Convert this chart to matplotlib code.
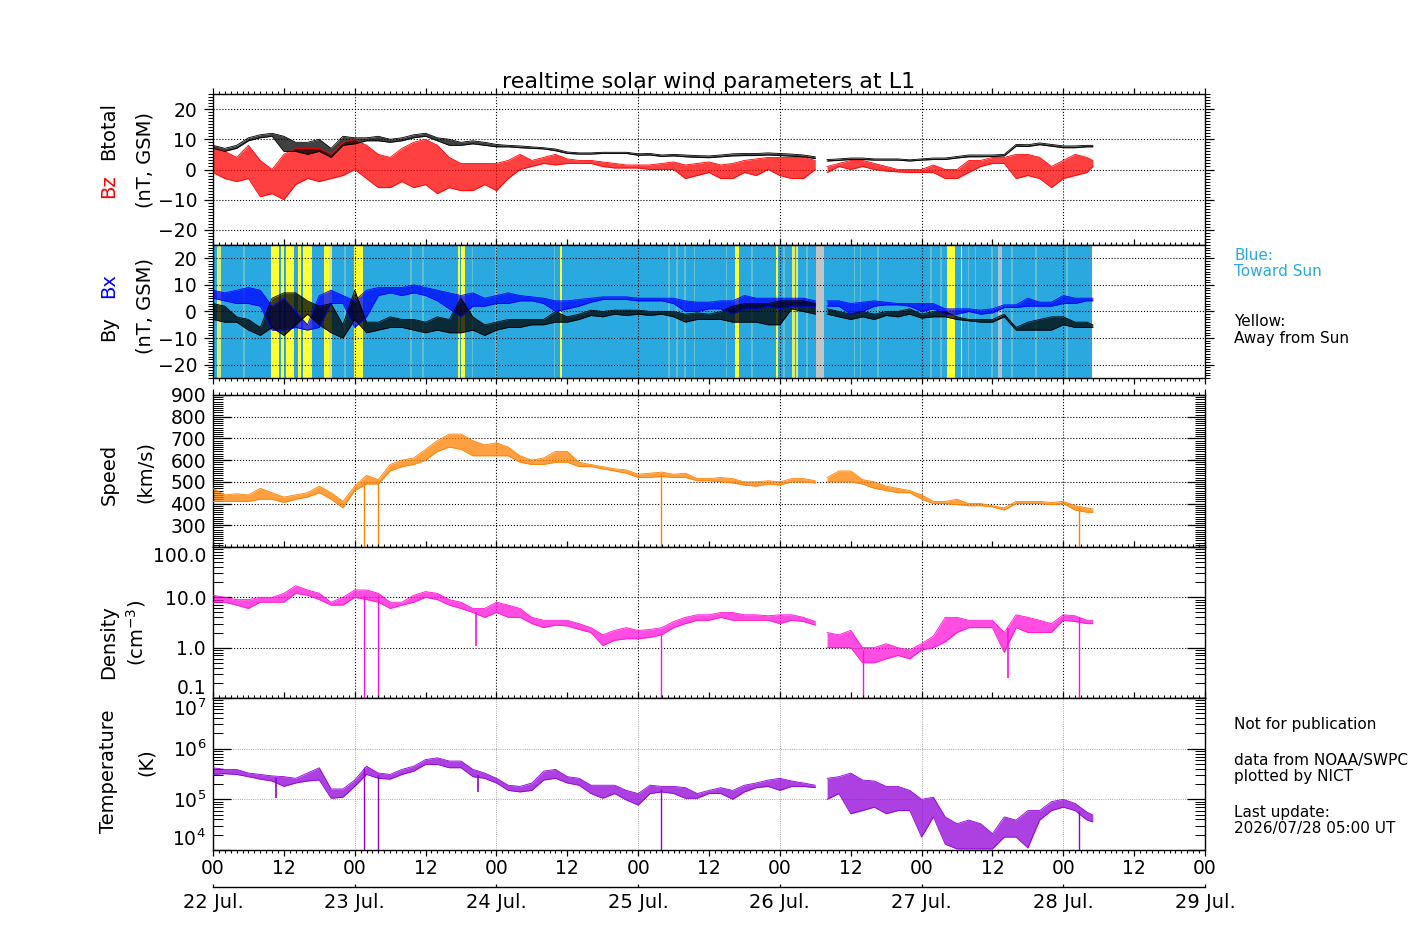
# realtime solar wind parameters at L1 - 7 day overview (Bz/Bt, Bx/By, speed, density, temperature)
import matplotlib
matplotlib.use('Agg')
import matplotlib.pyplot as plt
import numpy as np
from matplotlib.ticker import (MultipleLocator, FixedLocator, FixedFormatter,
                               FuncFormatter, LogLocator, NullFormatter)

# ---------------------------------------------------------------------------
# data: 2-hour samples (low / high envelope of the
# noisy trace), hours counted from 22 Jul. 00 UT
# ---------------------------------------------------------------------------
hours = np.arange(0, 150, 2).tolist() + [149]
gap_start, gap_end = 102.4, 103.6          # data gap on 26 Jul.

bt_lo = [7, 6, 7, 9.5, 10.5, 11, 6, 6, 5, 6, 4, 8,
         8.5, 9.5, 9.5, 9, 9.5, 10.5, 11, 9.5, 8, 8, 8.5, 8,
         7.5, 7.5, 7.2, 7, 6.8, 6.2, 5.3, 5.1, 5.1, 5.3, 5.3, 5.3,
         4.7, 4.8, 4.3, 4.5, 4.2, 4, 3.9, 4.2, 4.5, 4.6, 4.6, 4.8,
         4.6, 4.4, 4.2, 3.6, 2.8, 3.0, 3.3, 3.3, 3.1, 3.1, 3.1, 2.8,
         3.1, 3.3, 3.3, 3.8, 4.2, 4.2, 4.3, 4.5, 7.7, 7.6, 8.2, 7.7,
         7.2, 7.2, 7.5, 7.5]
bt_hi = [8, 7, 8, 10.5, 11.5, 12, 11, 9, 9, 10, 7, 11,
         10.5, 10.5, 11, 10, 10.5, 11.5, 12, 10.5, 10, 9, 9.5, 9,
         8.3, 8, 7.8, 7.5, 7.2, 6.8, 5.8, 5.5, 5.5, 5.7, 5.7, 5.7,
         5.2, 5.3, 4.8, 5, 4.8, 4.6, 4.5, 4.8, 5.2, 5.3, 5.3, 5.5,
         5.3, 5.1, 4.8, 4.2, 3.3, 3.5, 3.8, 3.8, 3.5, 3.5, 3.5, 3.2,
         3.5, 3.8, 3.8, 4.3, 4.8, 4.8, 4.8, 5, 8.3, 8.2, 8.8, 8.3,
         7.8, 7.8, 8, 8]

bz_lo = [-1, -3, -4, -3, -9, -8, -10, -5, -3, -4, -3, -2,
         0, -3, -6, -6, -4, -6, -5, -8, -6, -7, -7, -5,
         -7, -3, 0, 1, 2, 1.5, 2, 2, 2, 1, 0.5, 0.5,
         0.5, 0, 0, 0, -3, -2, -1, -3, -3, -1, -2, 0,
         -2, -3, -3, 0, -1, 1, 0, 1, 0, -0.5, -0.8, -1,
         -1, -1, -3, -3, -1, 1, 2, 2, -3, -2, -3, -6,
         -3, -2, -1, 1]
bz_hi = [7, 6, 4, 8, 3, 0, 5, 7, 7, 7, 5, 9,
         10, 8, 5, 4, 7, 9, 10, 8, 4, 2, 2, 2,
         2, 3, 5, 3, 4, 5, 3.5, 3, 3, 2.5, 2, 1.5,
         1.5, 1.5, 2, 2.5, 1.5, 2, 2.5, 1.5, 2, 3, 3.5, 4,
         4, 4, 4, 3, 1, 2, 3, 3, 2, 1, 0, 0,
         0, 1.5, 0, 0, 3, 3, 4, 4, 5, 5, 4, 1,
         3, 5, 4, 3]

bx_lo = [5, 4, 3, 3, 2, -7, -7, -6, -7, -6, 3, 3,
         -6, -2, 6, 7, 6, 7, 6, 4, 1, -2, 2, 2,
         3, 3, 4, 4, 3, 0, 1, 2, 3.5, 4.5, 4.5, 4.5,
         4, 4, 4, 3, 0, 0, 1, 1, -1, 1, 1, 2,
         1, 2, 2, 2, 2, 2, -1, 0, 2, 2.5, 2.5, 2,
         0, 1, -1, -1, 0, -1, -0.5, 1.5, 1.5, 2, 2, 2,
         3, 3, 4, 4]
bx_hi = [8, 7, 8, 9, 8, 2, 5, 0, -5, 6, 8, 6,
         4, 8, 9, 9, 9, 10, 9, 8, 7, 6, 7, 5,
         6, 7, 6, 5.5, 5, 4, 4, 4.5, 5, 5.5, 5.5, 5.5,
         5, 5, 5, 5, 4, 3.5, 3.5, 4, 4, 6, 5, 5,
         5, 5, 5, 4, 4, 4, 3, 3.5, 4, 3.5, 3, 3,
         3, 3, 1, 1, 1, 0.5, 1, 2.5, 2.5, 5, 3.5, 3.5,
         6, 5, 5, 5]

by_lo = [-3, -4, -4, -7, -9, -6, -9, -5, -1, -5, -8, -10,
         -3, -8, -7, -6, -6, -7, -8, -7, -8, -8, -7, -9,
         -7, -6, -6, -5, -5, -4, -4, -3, -1.5, -2, -1, -1.5,
         -1, -1.5, -1, -2, -4, -3, -3, -3, -4, -4, -4, -5,
         -5, 1, 0, -1, -1, -2, -3, -2, -3, -1.5, -2, -1,
         -2.5, -2, -2, -3, -3.5, -4, -4, -2, -7, -7, -7, -7,
         -5, -6, -6, -6]
by_hi = [3, 2, -2, -3, -6, 5, 7, 7, 4, 2, 3, -5,
         8, -4, -4, -2, -3, -3, -4, -2, -3, 5, -2, -5,
         -4, -3, -3, -3, -3, 0, -2, -1, 0.5, 0, 0.5, 0.5,
         0.5, 0, 0, 0, -1, -0.5, -1, 0, 2, 3, 3, 3,
         4, 4, 4, 3, 1, 0, -1, 0, -1, 0, 0, 1,
         -1, 0, 0, -2, -3, -3, -3, -1, -6, -4, -3, -2,
         -2, -4, -4, -5]

speed_lo = [410, 410, 410, 410, 420, 420, 405, 420, 430, 450, 420, 380,
            460, 490, 490, 550, 570, 580, 600, 640, 660, 650, 620, 620,
            620, 620, 590, 580, 580, 590, 590, 570, 570, 560, 550, 540,
            520, 520, 525, 520, 520, 505, 505, 500, 495, 485, 480, 490,
            485, 500, 500, 495, 500, 500, 500, 490, 470, 460, 450, 450,
            420, 400, 400, 395, 390, 390, 385, 370, 400, 400, 400, 395,
            400, 370, 360, 360]
speed_hi = [470, 440, 445, 440, 470, 450, 430, 440, 450, 480, 450, 410,
            480, 530, 510, 580, 600, 610, 650, 690, 720, 720, 690, 670,
            680, 660, 620, 600, 610, 640, 640, 590, 580, 570, 560, 555,
            535, 540, 545, 535, 540, 515, 515, 520, 515, 500, 500, 505,
            500, 515, 515, 505, 520, 550, 550, 510, 500, 480, 470, 460,
            440, 410, 410, 420, 400, 400, 390, 380, 410, 410, 410, 405,
            410, 390, 380, 375]

dens_lo = [8, 8, 7, 6, 8, 8, 8, 12, 11, 9, 7, 7,
           10, 9, 8, 6, 7, 8, 10, 9, 7, 6, 5, 4,
           5, 4, 4, 3, 2.5, 2.8, 2.7, 2.3, 2, 1.1, 1.4, 1.5,
           1.5, 1.6, 1.8, 2.5, 3, 3.5, 3.5, 4, 3.5, 3.5, 3.5, 3.5,
           3, 3.5, 3.3, 2.8, 1, 1, 1, 0.5, 0.5, 0.6, 0.7, 0.6,
           0.9, 1, 1.3, 2, 2.5, 2.5, 2.5, 0.8, 2.5, 2, 2, 2,
           3.5, 3.3, 3, 3]
dens_hi = [11, 10, 9, 9, 10, 10, 12, 17, 14, 12, 8, 10,
           14, 14, 12, 8, 8, 11, 13, 12, 9, 8, 6, 6,
           8, 7, 6, 4, 3.5, 3.5, 3.5, 3, 2.5, 1.8, 2.2, 2.5,
           2.2, 2.3, 2.5, 3.3, 4, 4.5, 4.5, 5, 5, 4.5, 4.5, 4.3,
           4.5, 4.5, 4, 3.3, 2, 1.8, 2.2, 1, 1, 1.2, 1, 0.9,
           1.2, 1.7, 4, 4, 3.5, 3.5, 3.5, 2, 4.5, 4, 3.5, 3,
           4.5, 4.3, 3.5, 3.5]

temp_lo = [3.1e5, 3.2e5, 3.1e5, 2.8e5, 2.5e5, 2.3e5, 1.8e5, 2.1e5, 2.3e5, 2.4e5, 1.05e5, 1.1e5,
           1.8e5, 3.1e5, 2.6e5, 2.5e5, 3.1e5, 3.6e5, 4.9e5, 4.9e5, 4.2e5, 4.2e5, 2.8e5, 2.6e5,
           2.1e5, 1.5e5, 1.4e5, 1.5e5, 2.4e5, 2.6e5, 2.1e5, 1.9e5, 1.3e5, 1.05e5, 1.3e5, 0.97e5,
           0.77e5, 1.3e5, 1.4e5, 1.3e5, 1.05e5, 1.05e5, 1.3e5, 1.3e5, 1.0e5, 1.4e5, 1.7e5, 1.8e5,
           1.5e5, 1.8e5, 1.8e5, 1.7e5, 1.0e5, 1.3e5, 0.52e5, 0.6e5, 0.7e5, 0.52e5, 0.6e5, 0.6e5,
           1.8e4, 4.5e4, 1.3e4, 1.05e4, 1.05e4, 1.05e4, 1.05e4, 1.8e4, 1.8e4, 1.1e4, 3.9e4, 6e4,
           7e4, 6e4, 3.9e4, 3.6e4]
temp_hi = [4.2e5, 3.9e5, 3.9e5, 3.3e5, 3.1e5, 2.9e5, 2.8e5, 2.6e5, 3.3e5, 4.2e5, 1.6e5, 1.6e5,
           2.4e5, 4.5e5, 3.3e5, 3.1e5, 3.9e5, 4.5e5, 6.1e5, 6.6e5, 5.7e5, 5.7e5, 3.9e5, 3.3e5,
           2.6e5, 1.9e5, 1.8e5, 2.1e5, 3.6e5, 3.9e5, 2.8e5, 2.6e5, 1.9e5, 1.9e5, 1.9e5, 1.5e5,
           1.3e5, 1.9e5, 1.8e5, 1.8e5, 1.7e5, 1.3e5, 1.5e5, 1.7e5, 1.5e5, 1.9e5, 2.1e5, 2.4e5,
           2.6e5, 2.3e5, 2.1e5, 1.9e5, 2.6e5, 2.8e5, 3.3e5, 2.4e5, 2.3e5, 1.8e5, 1.8e5, 1.5e5,
           1.0e5, 1.1e5, 4.5e4, 3.3e4, 3.9e4, 3.3e4, 2.1e4, 4.5e4, 3.9e4, 6e4, 6e4, 9e4,
           1.0e5, 8.3e4, 5.6e4, 4.9e4]

# plasma dropouts (vertical lines down to the axis floor)
drop_hours = [25.5, 27.9, 75.9, 146.7]
speed_drop_top = [500, 505, 535, 380]
dens_drop_top = [11, 11, 1.8, 4]
temp_drop_top = [4.3e5, 3.0e5, 1.6e5, 6e4]
dens_extra_drop_hour, dens_extra_drop_top = 110.1, 0.9

# short isolated dips
dens_dip_hours = [44.5, 134.6]
dens_dip_lo = [1.1, 0.25]
dens_dip_hi = [5.0, 2.5]
temp_dip_hours = [10.6, 44.8]
temp_dip_lo = [1.05e5, 1.4e5]
temp_dip_hi = [2.6e5, 3.0e5]

# IMF sector (panel 2 background): blue = toward, yellow = away, grey = no data
sector_end = 148.9
away_bands = [(9.9, 11.2), (11.5, 12.1), (12.3, 13.8), (14.4, 14.9), (15.3, 16.8),
              (18.8, 19.7), (23.9, 25.4), (41.5, 41.8), (42.0, 42.3), (42.4, 42.7),
              (58.8, 59.1), (88.4, 89.1), (95.4, 95.7), (124.3, 125.6), (126.6, 126.8)]
weak_away_bands = [(0.6, 1.4), (98.1, 98.5), (98.7, 99.1), (19.7, 20.1)]
mixed_hours = [5.1, 22.2, 33.4, 35.4, 43.8, 47.8, 57.7, 77.1, 78.4, 79.8, 81.4, 86.8,
               91.1, 96.5, 100.5, 108.5, 109.5, 112.5, 121.5, 123.2, 127.8, 129.0,
               131.8, 135.2, 139.2, 144.5]
nodata_bands = [(102.1, 103.5)]
weak_nodata_bands = [(132.9, 133.6)]

day_hours = [0, 24, 48, 72, 96, 120, 144, 168]
day_labels = ['22 Jul.', '23 Jul.', '24 Jul.', '25 Jul.', '26 Jul.', '27 Jul.', '28 Jul.', '29 Jul.']

# colours
c_bz = '#ff0000'
c_bx = '#0000ff'
c_speed = '#ff8000'
c_dens = '#ff10d8'
c_temp = '#9000d8'
c_toward = '#2aa9e0'
c_away = '#ffff33'

W, H = 1417, 944
fig = plt.figure(figsize=(W / 100, H / 100), dpi=100)


def box(top, bottom):
  return [213 / W, 1 - bottom / H, 992 / W, (bottom - top) / H]


ax1 = fig.add_axes(box(94, 245))
ax2 = fig.add_axes(box(245, 378))
ax3 = fig.add_axes(box(395, 547))
ax4 = fig.add_axes(box(547, 698))
ax5 = fig.add_axes(box(698, 850))
axes = [ax1, ax2, ax3, ax4, ax5]


def trace(ax, lo, hi, color, alpha=0.75, lw=0.6):
  # noisy trace drawn as its low/high envelope
  t = np.asarray(hours, float)
  lo = np.asarray(lo, float)
  hi = np.asarray(hi, float)
  for m in (t < gap_start, t > gap_end):
    ax.fill_between(t[m], lo[m], hi[m], color=color, alpha=alpha, lw=0, zorder=2)
    ax.plot(t[m], lo[m], color=color, lw=lw, zorder=3)
    ax.plot(t[m], hi[m], color=color, lw=lw, zorder=3)


# --- common x axis styling ---
for ax in axes:
  ax.set_xlim(0, 168)
  ax.xaxis.set_major_locator(MultipleLocator(12))
  ax.xaxis.set_minor_locator(MultipleLocator(1))
  show_bottom = ax in (ax2, ax5)
  ax.tick_params(axis='x', which='both', direction='out', top=True, bottom=show_bottom,
                 labelbottom=False, labeltop=False)
  ax.tick_params(axis='x', which='major', length=4.3, width=0.9)
  ax.tick_params(axis='x', which='minor', length=2.5, width=0.8)
  for s in ax.spines.values():
    s.set_linewidth(1.0)
  gcol = '0.55' if ax is ax5 else 'k'
  glw = 0.6 if ax is ax5 else 0.8
  for d in day_hours[1:-1]:
    ax.axvline(d, color=gcol, ls=':', lw=glw, zorder=1.5)
  ax.grid(axis='y', which='major', color=gcol, ls=':', lw=glw)

# --- panel 1: Bz / Btotal ---
trace(ax1, bz_lo, bz_hi, c_bz)
trace(ax1, bt_lo, bt_hi, 'k')
ax1.set_title('realtime solar wind parameters at L1', fontsize=16, pad=4)

# --- panel 2: Bx / By with sector background ---
ax2.axvspan(0, sector_end, color=c_toward, lw=0, zorder=0.3)
for h in mixed_hours:
  ax2.axvspan(h, h + 0.3, color='#62bfcf', lw=0, zorder=0.4)
for a, b in weak_away_bands:
  ax2.axvspan(a, b, color='#d6ec78', lw=0, zorder=0.4)
for a, b in away_bands:
  ax2.axvspan(a, b, color=c_away, lw=0, zorder=0.5)
for a, b in nodata_bands:
  ax2.axvspan(a, b, color='#c4c4c4', lw=0, zorder=0.5)
for a, b in weak_nodata_bands:
  ax2.axvspan(a, b, color='#a9c4d2', lw=0, zorder=0.5)
trace(ax2, bx_lo, bx_hi, c_bx)
trace(ax2, by_lo, by_hi, 'k')

for ax in (ax1, ax2):
  ax.set_ylim(-25, 25)
  ax.yaxis.set_major_locator(FixedLocator([-20, -10, 0, 10, 20]))
  ax.yaxis.set_minor_locator(MultipleLocator(1))
  ax.tick_params(axis='y', which='both', direction='out', left=True, right=True,
                 labelsize=13.5, pad=5)
  ax.tick_params(axis='y', which='major', length=6.5, width=0.9)
  ax.tick_params(axis='y', which='minor', length=3.5, width=0.7)

# --- panel 3: speed ---
trace(ax3, speed_lo, speed_hi, c_speed)
ax3.vlines(drop_hours, 200, speed_drop_top, color=c_speed, lw=1.0, zorder=3)
ax3.set_ylim(200, 900)
ax3.yaxis.set_major_locator(FixedLocator([300, 400, 500, 600, 700, 800, 900]))
ax3.yaxis.set_minor_locator(MultipleLocator(10))

# --- panel 4: density ---
ax4.set_yscale('log')
trace(ax4, dens_lo, dens_hi, c_dens)
ax4.vlines(drop_hours, 0.1, dens_drop_top, color=c_dens, lw=1.0, zorder=3)
ax4.vlines([dens_extra_drop_hour], 0.1, [dens_extra_drop_top], color=c_dens, lw=1.0, zorder=3)
ax4.vlines(dens_dip_hours, dens_dip_lo, dens_dip_hi, color=c_dens, lw=1.2, zorder=3)
ax4.set_ylim(0.1, 100)
ax4.yaxis.set_major_locator(FixedLocator([0.1, 1, 10, 100]))
ax4.yaxis.set_major_formatter(FixedFormatter(['0.1', '1.0', '10.0', '100.0']))
ax4.yaxis.set_minor_locator(LogLocator(base=10, subs=range(2, 10)))
ax4.yaxis.set_minor_formatter(NullFormatter())

# --- panel 5: temperature ---
ax5.set_yscale('log')
trace(ax5, temp_lo, temp_hi, c_temp)
ax5.vlines(drop_hours, 1e4, temp_drop_top, color=c_temp, lw=1.0, zorder=3)
ax5.vlines(temp_dip_hours, temp_dip_lo, temp_dip_hi, color=c_temp, lw=1.2, zorder=3)
ax5.set_ylim(1e4, 1e7)
ax5.yaxis.set_major_locator(FixedLocator([1e4, 1e5, 1e6, 1e7]))
ax5.yaxis.set_major_formatter(FixedFormatter(['$10^4$', '$10^5$', '$10^6$', '$10^7$']))
ax5.yaxis.set_minor_locator(LogLocator(base=10, subs=range(2, 10)))
ax5.yaxis.set_minor_formatter(NullFormatter())

for ax in (ax3, ax4, ax5):
  ax.tick_params(axis='y', which='both', direction='in', left=True, right=True,
                 labelsize=13.5, pad=5)
  ax.tick_params(axis='y', which='major', length=13, width=0.9)
  ax.tick_params(axis='y', which='minor', length=7, width=0.7)

# edge labels on the log panels sit inside the frame
for ax in (ax4, ax5):
  ticks = ax.yaxis.get_major_ticks()
  ticks[0].label1.set_va('bottom')
  ticks[-1].label1.set_va('top')

# bottom time axis: hours, then dates
ax5.tick_params(axis='x', which='both', labelbottom=True, labelsize=13.5, pad=2.5)
ax5.xaxis.set_major_formatter(FuncFormatter(lambda v, p: '%02d' % (int(round(v)) % 24)))
sec = ax5.secondary_xaxis(-37 / 152)
sec.set_xticks(day_hours)
sec.set_xticklabels(day_labels)
sec.tick_params(axis='x', direction='in', length=2, width=0.9, labelsize=14, pad=4.5)
sec.spines['bottom'].set_linewidth(1.0)


# --- y labels (two lines, partly coloured) ---
def ylab(x, y, s, color='k', fs=14):
  fig.text(x / W, 1 - y / H, s, rotation=90, ha='center', va='center', color=color, fontsize=fs)


ylab(109, 131, 'Btotal')
ylab(109, 186, 'Bz', c_bz)
ylab(145, 160, '(nT, GSM)')
ylab(109, 286, 'Bx', c_bx)
ylab(109, 329, 'By')
ylab(145, 306, '(nT, GSM)')
ylab(109, 474, 'Speed')
ylab(145, 472, '(km/s)')
ylab(109, 642, 'Density')
ylab(136, 633, '(cm$^{-3}$)')
ylab(108, 771, 'Temperature')
ylab(146, 762, '(K)')


# --- right-hand notes ---
def note(y, s, color='k'):
  fig.text(1234 / W, 1 - y / H, s, ha='left', va='center', color=color, fontsize=11)


note(256, 'Blue:', c_toward)
note(272, 'Toward Sun', c_toward)
note(321, 'Yellow:')
note(338, 'Away from Sun')
note(724, 'Not for publication')
note(760, 'data from NOAA/SWPC')
note(776, 'plotted by NICT')
note(812, 'Last update:')
note(828, '2026/07/28 05:00 UT')

fig.savefig('out.png', dpi=100)
